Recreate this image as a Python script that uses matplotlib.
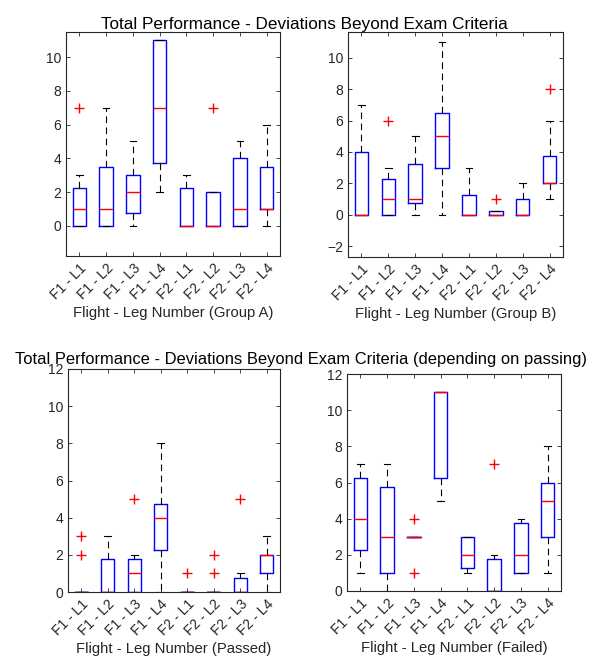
import matplotlib
matplotlib.use('Agg')
import matplotlib.pyplot as plt

plt.rcParams['font.family'] = ['Liberation Sans', 'DejaVu Sans']

legs = ['F1 - L1', 'F1 - L2', 'F1 - L3', 'F1 - L4',
        'F2 - L1', 'F2 - L2', 'F2 - L3', 'F2 - L4']

# box stats: q1, median, q3, lower whisker, upper whisker, outliers
groupA_q1 = [0, 0, 0.75, 3.75, 0, 0, 0, 1]
groupA_med = [1, 1, 2, 7, 0, 0, 1, 1]
groupA_q3 = [2.25, 3.5, 3, 11, 2.25, 2, 4, 3.5]
groupA_lo = [0, 0, 0, 2, 0, 0, 0, 0]
groupA_hi = [3, 7, 5, 11, 3, 2, 5, 6]
groupA_out = [[7], [], [], [], [], [7], [], []]

groupB_q1 = [0, 0, 0.75, 3, 0, 0, 0, 2]
groupB_med = [0, 1, 1, 5, 0, 0, 0, 2]
groupB_q3 = [4, 2.25, 3.25, 6.5, 1.25, 0.25, 1, 3.75]
groupB_lo = [0, 0, 0, 0, 0, 0, 0, 1]
groupB_hi = [7, 3, 5, 11, 3, 0.25, 2, 6]
groupB_out = [[], [6], [], [], [], [1], [], [8]]

passed_q1 = [0, 0, 0, 2.25, 0, 0, 0, 1]
passed_med = [0, 0, 1, 4, 0, 0, 0, 2]
passed_q3 = [0, 1.75, 1.75, 4.75, 0, 0, 0.75, 2]
passed_lo = [0, 0, 0, 0, 0, 0, 0, 0]
passed_hi = [0, 3, 2, 8, 0, 0, 1, 3]
passed_out = [[2, 3], [], [5], [], [1], [1, 2], [5], []]

failed_q1 = [2.25, 1, 3, 6.25, 1.25, 0, 1, 3]
failed_med = [4, 3, 3, 11, 2, 0, 2, 5]
failed_q3 = [6.25, 5.75, 3, 11, 3, 1.75, 3.75, 6]
failed_lo = [1, 0, 3, 5, 1, 0, 1, 1]
failed_hi = [7, 7, 3, 11, 3, 2, 4, 8]
failed_out = [[], [], [1, 4], [], [], [7], [], []]


def make_stats(q1, med, q3, lo, hi, out):
    st = []
    for i in range(len(q1)):
        st.append({'q1': q1[i], 'med': med[i], 'q3': q3[i],
                   'whislo': lo[i], 'whishi': hi[i], 'fliers': out[i]})
    return st


def draw(ax, stats, ylim, yticks, xlabel):
    ax.bxp(stats, positions=range(1, len(legs) + 1), widths=0.5, capwidths=0.25,
           boxprops=dict(color='blue', lw=1),
           medianprops=dict(color='red', lw=1),
           whiskerprops=dict(color='black', lw=0.8, linestyle=(0, (6, 4))),
           capprops=dict(color='black', lw=0.8),
           flierprops=dict(marker='+', markeredgecolor='red', markersize=7.5, markeredgewidth=1))
    ax.set_xlim(0.5, 8.5)
    ax.set_ylim(ylim)
    ax.set_yticks(yticks)
    ax.set_xticks(range(1, len(legs) + 1))
    ax.set_xticklabels(legs, rotation=45, ha='right', rotation_mode='anchor')
    ax.tick_params(direction='in', top=True, right=True, labelsize=10,
                   colors='#262626', length=3, width=0.6)
    for s in ax.spines.values():
        s.set_color('#262626')
        s.set_linewidth(0.8)
    ax.set_xlabel(xlabel, fontsize=10.7, color='#262626', labelpad=3)


W, H = 595, 659
fig = plt.figure(figsize=(W / 100, H / 100), dpi=100)


def add_ax(x0, x1, y0, y1):
    return fig.add_axes([x0 / W, 1 - y1 / H, (x1 - x0) / W, (y1 - y0) / H])


axA = add_ax(66, 280, 32, 256)
axB = add_ax(348, 563, 32, 257)
axC = add_ax(68, 280, 369, 592)
axD = add_ax(347, 561, 374, 591)

draw(axA, make_stats(groupA_q1, groupA_med, groupA_q3, groupA_lo, groupA_hi, groupA_out),
     (-1.8, 11.5), range(0, 11, 2), 'Flight - Leg Number (Group A)')
draw(axB, make_stats(groupB_q1, groupB_med, groupB_q3, groupB_lo, groupB_hi, groupB_out),
     (-2.7, 11.65), range(-2, 11, 2), 'Flight - Leg Number (Group B)')
draw(axC, make_stats(passed_q1, passed_med, passed_q3, passed_lo, passed_hi, passed_out),
     (0, 12), range(0, 13, 2), 'Flight - Leg Number (Passed)')
draw(axD, make_stats(failed_q1, failed_med, failed_q3, failed_lo, failed_hi, failed_out),
     (0, 12), range(0, 13, 2), 'Flight - Leg Number (Failed)')

fig.text(304 / W, 1 - 25 / H, 'Total Performance - Deviations Beyond Exam Criteria',
         ha='center', va='center', fontsize=12.3)
fig.text(301 / W, 1 - 360 / H,
         'Total Performance - Deviations Beyond Exam Criteria (depending on passing)',
         ha='center', va='center', fontsize=11.9)

fig.savefig('out.png', dpi=100)
